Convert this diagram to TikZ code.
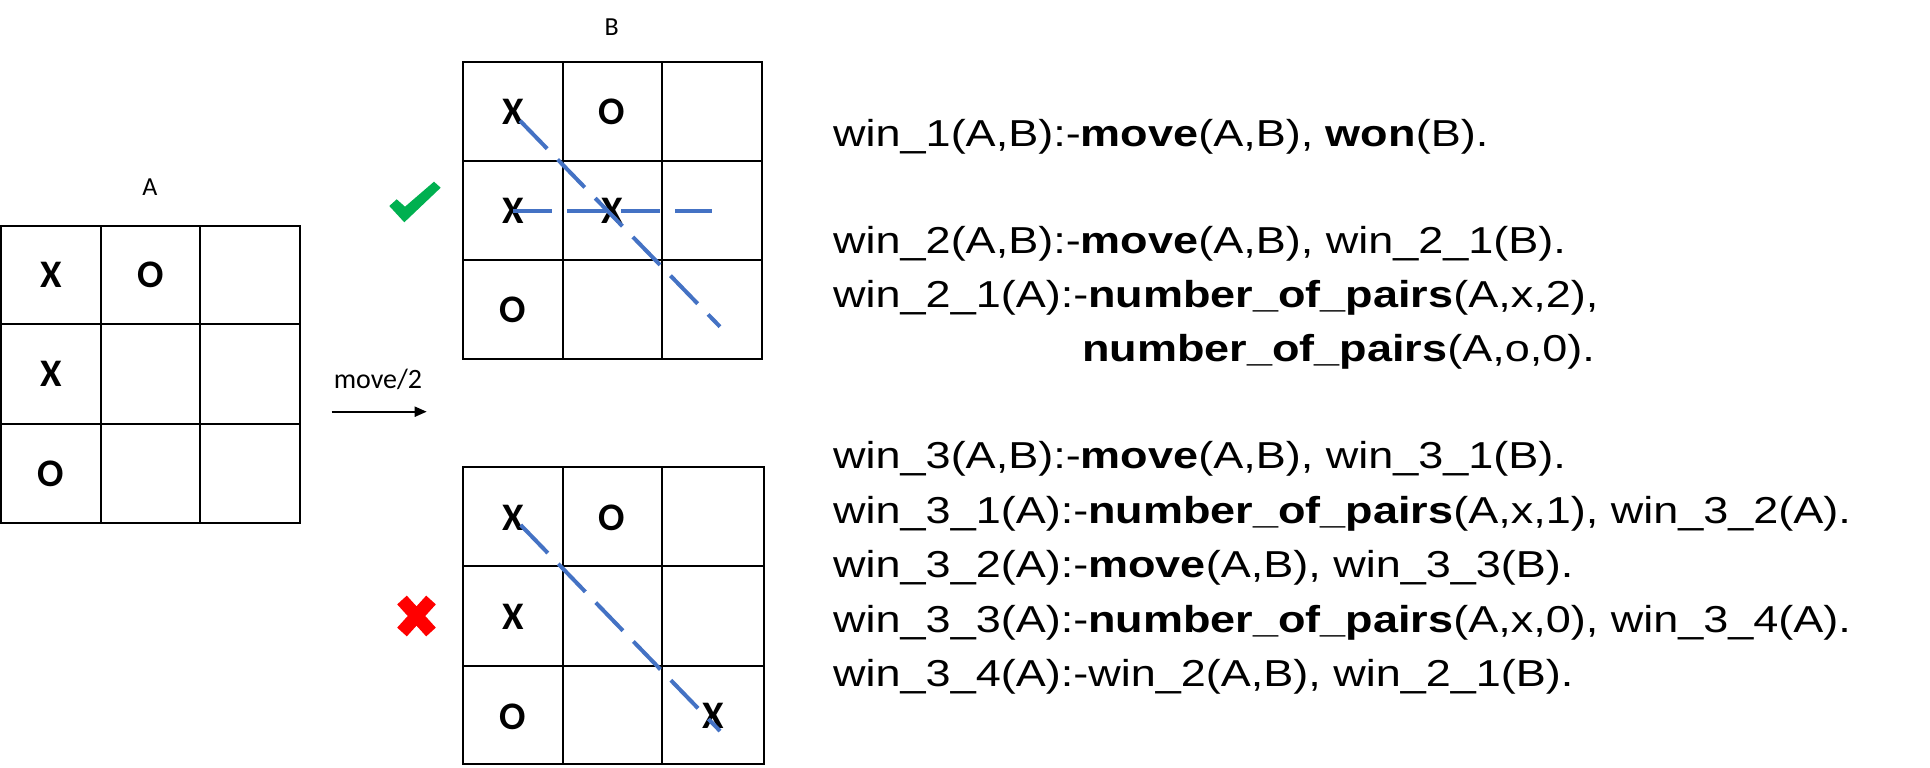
\documentclass[tikz,border=0pt]{standalone}
\usepackage{fontspec}
\usepackage{graphicx}
\setmainfont{Liberation Sans}
\newfontfamily\labelfont{Carlito}
\usetikzlibrary{arrows.meta}
\definecolor{winblue}{RGB}{68,114,196}
\definecolor{okgreen}{RGB}{0,176,80}
\definecolor{badred}{RGB}{255,0,0}
\newcommand\codestretch[1]{\scalebox{1.2}[1]{#1}}
\begin{document}
\begin{tikzpicture}[x=1pt,y=-1pt,
  gridline/.style={line width=2pt, black},
  cellmark/.style={inner sep=0pt, anchor=center, font=\labelfont\bfseries\fontsize{39}{40}\selectfont},
  boardlabel/.style={inner sep=0pt, anchor=base, font=\labelfont\fontsize{26}{28}\selectfont},
  codeline/.style={inner sep=0pt, anchor=base west, font=\fontsize{37.5}{40}\selectfont},
  winline/.style={winblue, line width=4pt, dash pattern=on 39pt off 15pt}]
\useasboundingbox (0,0) rectangle (1930,768);
\fill[white] (0,0) rectangle (1930,768);

% Board A
\draw[gridline] (1,226) rectangle (300,523);
\draw[gridline] (100.7,226)--(100.7,523) (200,226)--(200,523) (1,324)--(300,324) (1,424)--(300,424);
\node[boardlabel] (labA) at (150,195) {A};
\node[cellmark] (a11) at (51,275) {X};
\node[cellmark] (a12) at (150.5,275) {O};
\node[cellmark] (a21) at (51,374) {X};
\node[cellmark] (a31) at (51,473.5) {O};

% Board B (top)
\draw[gridline] (463,62) rectangle (762,359);
\draw[gridline] (562.7,62)--(562.7,359) (662,62)--(662,359) (463,161)--(762,161) (463,260)--(762,260);
\node[boardlabel] (labB) at (611.7,36) {B};
\node[cellmark] (b11) at (513,112) {X};
\node[cellmark] (b12) at (612,112) {O};
\node[cellmark] (b21) at (513,211) {X};
\node[cellmark] (b22) at (612,211) {X};
\node[cellmark] (b31) at (513,310) {O};
\coordinate (bd1) at (520,120.7);
\coordinate (bd2) at (720,326.7);
\coordinate (bh1) at (513,211);
\coordinate (bh2) at (712,211);
\draw[winline] (bd1) -- (bd2);
\draw[winline] (bh1) -- (bh2);

% Board C (bottom)
\draw[gridline] (463,467) rectangle (764,764);
\draw[gridline] (562.7,467)--(562.7,764) (662,467)--(662,764) (463,566.3)--(764,566.3) (463,665.7)--(764,665.7);
\node[cellmark] (c11) at (513,518) {X};
\node[cellmark] (c12) at (612,518) {O};
\node[cellmark] (c21) at (513,617) {X};
\node[cellmark] (c31) at (513,717) {O};
\node[cellmark] (c33) at (713,716) {X};
\coordinate (cd1) at (520.7,525);
\coordinate (cd2) at (720,731);
\draw[winline] (cd1) -- (cd2);

% check mark and cross
\fill[okgreen] (389.3,206) -- (396.7,199.3) -- (405,206.7) -- (434,181.7) -- (440.7,187.7) -- (404.3,222.3) -- cycle;
\draw[badred, line width=13pt] (402,600) -- (431,632) (431,600) -- (402,632);

% move arrow
\coordinate (mv1) at (331.7,411.7);
\coordinate (mv2) at (426.7,411.7);
\draw[line width=2pt, -{Triangle[length=12pt,width=10pt]}] (mv1) -- (mv2);
\node[boardlabel, font=\labelfont\fontsize{28}{30}\selectfont] (mvlab) at (378,388) {move/2};

% clauses
\node[codeline] (l1) at (833,146.7) {\codestretch{win\_1(A,B):-\textbf{move}(A,B), \textbf{won}(B).}};
\node[codeline] (l2) at (833,253.3) {\codestretch{win\_2(A,B):-\textbf{move}(A,B), win\_2\_1(B).}};
\node[codeline] (l3) at (833,307) {\codestretch{win\_2\_1(A):-\textbf{number\_of\_pairs}(A,x,2),}};
\node[codeline] (l4) at (1082,361.5) {\codestretch{\textbf{number\_of\_pairs}(A,o,0).}};
\node[codeline] (l5) at (833,468.3) {\codestretch{win\_3(A,B):-\textbf{move}(A,B), win\_3\_1(B).}};
\node[codeline] (l6) at (833,523) {\codestretch{win\_3\_1(A):-\textbf{number\_of\_pairs}(A,x,1), win\_3\_2(A).}};
\node[codeline] (l7) at (833,577.5) {\codestretch{win\_3\_2(A):-\textbf{move}(A,B), win\_3\_3(B).}};
\node[codeline] (l8) at (833,632) {\codestretch{win\_3\_3(A):-\textbf{number\_of\_pairs}(A,x,0), win\_3\_4(A).}};
\node[codeline] (l9) at (833,686.5) {\codestretch{win\_3\_4(A):-win\_2(A,B), win\_2\_1(B).}};
\end{tikzpicture}
\end{document}
